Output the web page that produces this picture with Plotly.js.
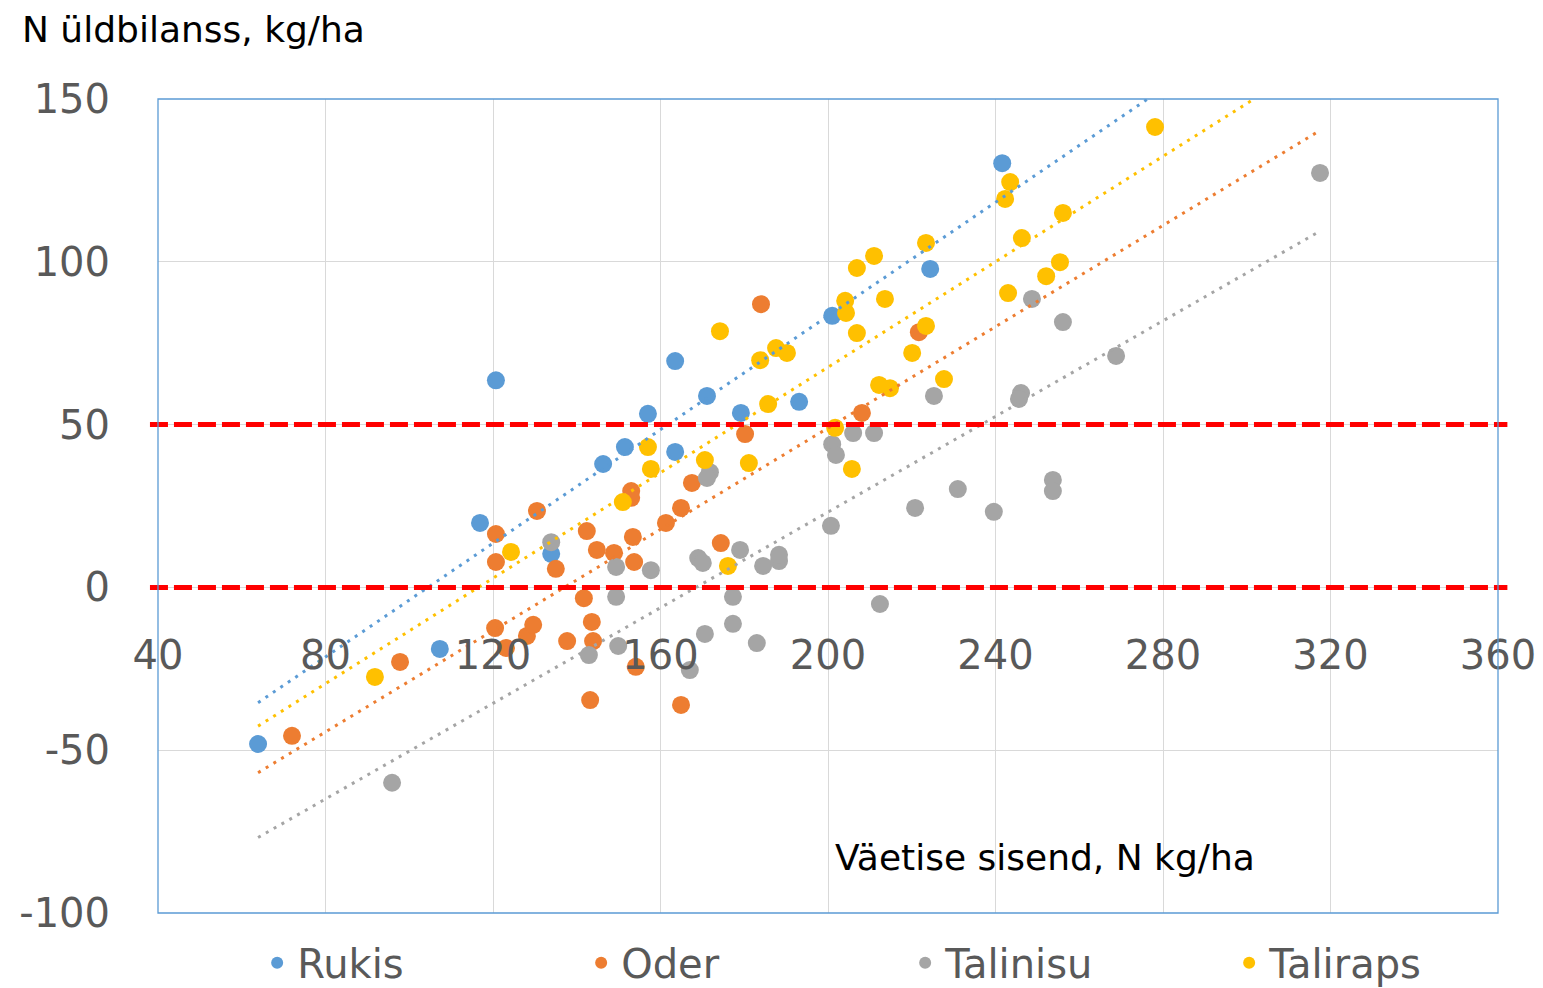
<!DOCTYPE html>
<html>
<head>
<meta charset="utf-8">
<script src="https://cdn.plot.ly/plotly-3.0.1.min.js"></script>
<style>html,body{margin:0;padding:0;background:#fff;}</style>
</head>
<body>
<div id="chart" style="width:1543px;height:988px;"></div>
<script>
// ---- Data ----
const seriesNames = ["Rukis", "Oder", "Talinisu", "Taliraps"];
const seriesColors = ["#5B9BD5", "#ED7D31", "#A5A5A5", "#FFC000"];

const rukisX = [63.9, 107.3, 116.9, 120.7, 133.9, 146.3, 151.5, 157.0, 163.5, 163.5, 171.1, 179.2, 193.1, 201.0, 224.4, 241.6];
const rukisY = [-48.1, -18.9, 19.8, 63.6, 10.3, 37.9, 43.1, 53.3, 41.6, 69.5, 58.8, 53.6, 57.0, 83.4, 97.8, 130.3];

const oderX = [72.0, 97.8, 120.7, 120.7, 120.5, 123.1, 128.1, 129.6, 130.5, 135.0, 137.7, 141.7, 142.4, 144.8, 143.6, 143.9, 143.2, 148.9, 153.0, 153.0, 153.4, 153.7, 154.1, 161.3, 164.9, 167.5, 164.9, 174.4, 180.2, 184.0, 208.1, 221.7];
const oderY = [-45.6, -22.9, 16.4, 7.8, -12.5, -18.6, -14.9, -11.5, 23.5, 5.7, -16.5, -3.3, 17.3, 11.5, -10.6, -16.5, -34.6, 10.6, 29.6, 27.5, 15.5, 7.8, -24.4, 19.8, 24.4, 32.1, -36.1, 13.6, 47.1, 87.0, 53.6, 78.4];

const talinisuX = [95.9, 133.9, 142.9, 149.4, 149.4, 149.9, 157.7, 167.0, 169.0, 170.1, 171.8, 171.1, 170.6, 177.3, 177.3, 179.0, 183.0, 184.5, 188.3, 188.3, 200.7, 201.0, 201.9, 206.0, 211.0, 212.4, 220.8, 225.3, 231.0, 239.6, 246.1, 245.6, 248.7, 253.7, 253.7, 256.1, 268.8, 317.5];
const talinisuY = [-60.0, 13.9, -20.8, 6.3, -2.9, -18.0, 5.3, -25.4, 9.0, 7.5, 35.4, 33.6, -14.3, -2.9, -11.2, 11.5, -17.1, 6.6, 8.1, 10.0, 18.9, 44.0, 40.7, 47.4, 47.4, -5.1, 24.4, 58.8, 30.2, 23.2, 59.7, 57.9, 88.6, 33.0, 29.6, 81.5, 71.1, 127.3];

const talirapsX = [91.8, 124.3, 151.0, 157.0, 157.7, 170.6, 174.2, 176.1, 181.1, 183.8, 185.7, 187.6, 190.2, 201.7, 205.7, 204.1, 204.3, 206.9, 206.9, 211.0, 213.6, 212.2, 214.8, 220.1, 223.4, 223.4, 227.7, 242.3, 243.5, 243.0, 246.3, 252.1, 255.4, 256.1, 278.1];
const talirapsY = [-27.5, 10.9, 26.2, 43.1, 36.4, 39.1, 78.7, 6.6, 38.2, 69.8, 56.3, 73.5, 72.0, 49.0, 36.4, 88.0, 84.3, 98.1, 78.1, 101.8, 88.6, 62.2, 61.2, 72.0, 80.3, 105.8, 64.0, 119.3, 124.5, 90.4, 107.3, 95.6, 99.9, 115.0, 141.4];

// Linear trendline end points
const trendX = [63.9, 316.8];
const rukisTrend = [-35.4, 185.3];
const oderTrend = [-56.9, 139.8];
const talinisuTrend = [-76.8, 108.9];
const talirapsTrend = [-42.6, 162.2];

// Reference (threshold) lines
const thresholds = [0, 50];

// Axis ticks
const xTicks = [40, 80, 120, 160, 200, 240, 280, 320, 360];
const yTicks = [-100, -50, 0, 50, 100, 150];

const yTitle = "N üldbilanss, kg/ha";
const xTitle = "Väetise sisend, N kg/ha";

// ---- Build traces ----
const xs = [rukisX, oderX, talinisuX, talirapsX];
const ys = [rukisY, oderY, talinisuY, talirapsY];
const trends = [rukisTrend, oderTrend, talinisuTrend, talirapsTrend];

const traces = [];
for (let i = 0; i < 4; i++) {
  traces.push({
    type: "scatter", mode: "markers", name: seriesNames[i],
    x: xs[i], y: ys[i],
    marker: {color: seriesColors[i], size: 18, line: {width: 0}},
    hoverinfo: "x+y+name"
  });
}
for (let i = 0; i < 4; i++) {
  traces.push({
    type: "scatter", mode: "lines", showlegend: false, hoverinfo: "skip",
    x: trendX, y: trends[i],
    line: {color: seriesColors[i], width: 3, dash: "3px,6px"}
  });
}

const shapes = thresholds.map(v => ({
  type: "line", xref: "paper", yref: "y",
  x0: -0.006, x1: 1.007, y0: v, y1: v,
  line: {color: "#FF0000", width: 5, dash: "18px,6px"},
  layer: "above"
}));
shapes.push({
  type: "rect", xref: "paper", yref: "paper", x0: 0, x1: 1, y0: 0, y1: 1,
  line: {color: "#5B9BD5", width: 1.3}, fillcolor: "rgba(0,0,0,0)", layer: "above"
});

const layout = {
  width: 1543, height: 988,
  margin: {l: 158, r: 45, t: 99, b: 75, autoexpand: false},
  paper_bgcolor: "#ffffff", plot_bgcolor: "#ffffff",
  font: {family: "DejaVu Sans", color: "#595959"},
  showlegend: true,
  xaxis: {
    range: [40, 360], tickvals: xTicks, ticktext: xTicks.map(String),
    showgrid: true, gridcolor: "#D9D9D9", gridwidth: 1.3,
    zeroline: false, showline: false,
    anchor: "free", position: 0.4,
    ticks: "outside", ticklen: 33, tickcolor: "rgba(0,0,0,0)",
    tickfont: {size: 40, color: "#595959", family: "DejaVu Sans"}
  },
  yaxis: {
    range: [-100, 150], tickvals: yTicks, ticktext: yTicks.map(String),
    showgrid: true, gridcolor: "#D9D9D9", gridwidth: 1.3,
    zeroline: false, showline: false,
    ticks: "outside", ticklen: 39, tickcolor: "rgba(0,0,0,0)",
    tickfont: {size: 40, color: "#595959", family: "DejaVu Sans"}
  },
  legend: {
    orientation: "h", x: 0.074, xanchor: "left", y: -0.061, yanchor: "middle",
    font: {size: 40, color: "#595959", family: "DejaVu Sans"},
    itemsizing: "constant", entrywidth: 279, entrywidthmode: "pixels",
    bgcolor: "rgba(0,0,0,0)"
  },
  shapes: shapes,
  annotations: [
    {text: yTitle, xref: "paper", yref: "paper", x: -0.103, y: 1.0848,
     xanchor: "left", yanchor: "middle", showarrow: false,
     font: {size: 36, color: "#000000", family: "DejaVu Sans"}},
    {text: xTitle, xref: "paper", yref: "paper", x: 0.5037, y: 0.0676,
     xanchor: "left", yanchor: "middle", showarrow: false,
     font: {size: 36, color: "#000000", family: "DejaVu Sans"}}
  ]
};

Plotly.newPlot("chart", traces, layout, {displayModeBar: false, responsive: false});
</script>
</body>
</html>
